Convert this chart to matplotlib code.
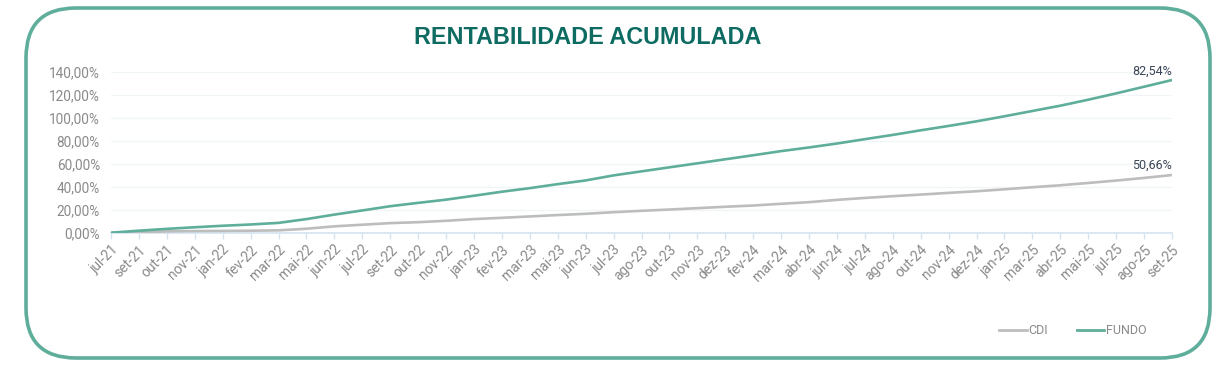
import matplotlib
matplotlib.use("Agg")
import matplotlib.pyplot as plt
from matplotlib.patches import FancyBboxPatch
from matplotlib.lines import Line2D

# ---- data ----
categories = ["jul-21", "set-21", "out-21", "nov-21", "jan-22", "fev-22", "mar-22", "mai-22",
              "jun-22", "jul-22", "set-22", "out-22", "nov-22", "jan-23", "fev-23", "mar-23",
              "mai-23", "jun-23", "jul-23", "ago-23", "out-23", "nov-23", "dez-23", "fev-24",
              "mar-24", "abr-24", "jun-24", "jul-24", "ago-24", "out-24", "nov-24", "dez-24",
              "jan-25", "mar-25", "abr-25", "mai-25", "jul-25", "ago-25", "set-25"]
fundo = [0.3, 2.0, 3.6, 5.0, 6.3, 7.4, 8.8, 12.1, 16.0, 19.6, 23.3, 26.2, 29.0, 32.4, 35.9,
         39.0, 42.5, 45.7, 50.1, 53.6, 57.1, 60.6, 64.1, 67.6, 71.2, 74.4, 77.8, 81.6, 85.3,
         89.3, 93.1, 97.1, 101.5, 106.1, 110.7, 115.9, 121.4, 127.2, 133.0]
cdi = [0.0, 0.8, 1.4, 1.7, 1.8, 2.0, 2.3, 3.7, 5.8, 7.2, 8.6, 9.4, 10.6, 12.1, 13.2, 14.4,
       15.6, 16.7, 18.1, 19.3, 20.4, 21.6, 22.8, 23.9, 25.4, 26.8, 28.8, 30.5, 32.0, 33.4,
       34.9, 36.3, 38.0, 39.8, 41.5, 43.5, 45.6, 47.9, 50.4]
yticks = [0, 20, 40, 60, 80, 100, 120, 140]
ytick_labels = ["0,00%", "20,00%", "40,00%", "60,00%", "80,00%", "100,00%", "120,00%", "140,00%"]
end_labels = {"FUNDO": "82,54%", "CDI": "50,66%"}
title = "RENTABILIDADE ACUMULADA"

# ---- style ----
W, H = 1231, 365
TEAL = "#5fae9b"
GRAY = "#bdbdbd"
TEXT_GRAY = "#8a8a8a"
AXIS_BLUE = "#d4e3f0"
GRID = "#f1f5f8"
TITLE_C = "#0d6b62"

fig = plt.figure(figsize=(W / 100, H / 100), dpi=100)

# background frame in pixel coordinates
bg = fig.add_axes([0, 0, 1, 1], zorder=0)
bg.set_xlim(0, W)
bg.set_ylim(H, 0)
bg.axis("off")
frame = FancyBboxPatch((26, 8), 1184, 350, boxstyle="round,pad=0,rounding_size=50",
                       facecolor="white", edgecolor=TEAL, linewidth=2.6)
bg.add_patch(frame)
bg.text(588, 38, title, ha="center", va="center", color=TITLE_C, fontsize=16.8,
        fontweight="bold", family="Liberation Sans")

# main chart
left, right, top, bottom = 111, 1172, 72, 233
ax = fig.add_axes([left / W, 1 - bottom / H, (right - left) / W, (bottom - top) / H], zorder=1)
ax.patch.set_alpha(0)
x = list(range(len(categories)))
ax.plot(x, cdi, color=GRAY, linewidth=1.9, solid_capstyle="round", label="CDI", zorder=3)
ax.plot(x, fundo, color=TEAL, linewidth=1.9, solid_capstyle="round", label="FUNDO", zorder=4)

ax.set_xlim(0, len(categories) - 1)
ax.set_ylim(0, 140)
ax.set_yticks(yticks)
ax.set_yticklabels(ytick_labels, family="Roboto", fontsize=9.8, color=TEXT_GRAY)
ax.set_xticks(x)
ax.set_xticklabels(categories, rotation=45, ha="right", rotation_mode="anchor",
                   family="Roboto", fontsize=10, color=TEXT_GRAY)
ax.tick_params(axis="y", length=0, pad=8)
ax.tick_params(axis="x", length=4, width=1, color=AXIS_BLUE, pad=3)
ax.grid(axis="y", color=GRID, linewidth=1)
ax.set_axisbelow(True)
for s in ["top", "right", "left"]:
    ax.spines[s].set_visible(False)
ax.spines["bottom"].set_color(AXIS_BLUE)
ax.spines["bottom"].set_linewidth(1.2)

ax.annotate(end_labels["FUNDO"], (x[-1], fundo[-1]), xytext=(0, 2), textcoords="offset points",
            ha="right", va="bottom", fontsize=9, family="Roboto", color="#3b4656")
ax.annotate(end_labels["CDI"], (x[-1], cdi[-1]), xytext=(0, 2), textcoords="offset points",
            ha="right", va="bottom", fontsize=9, family="Roboto", color="#3b4656")

handles = [Line2D([], [], color=GRAY, linewidth=2.0), Line2D([], [], color=TEAL, linewidth=2.0)]
fig.legend(handles, ["CDI", "FUNDO"], loc="center left", bbox_to_anchor=(999 / W, 1 - 331 / H),
           frameon=False, ncol=2, handlelength=2.2, handletextpad=0.15, columnspacing=2.3,
           borderpad=0, borderaxespad=0,
           prop={"family": "Roboto", "size": 9}, labelcolor=TEXT_GRAY)

fig.savefig("out.png", dpi=100)
